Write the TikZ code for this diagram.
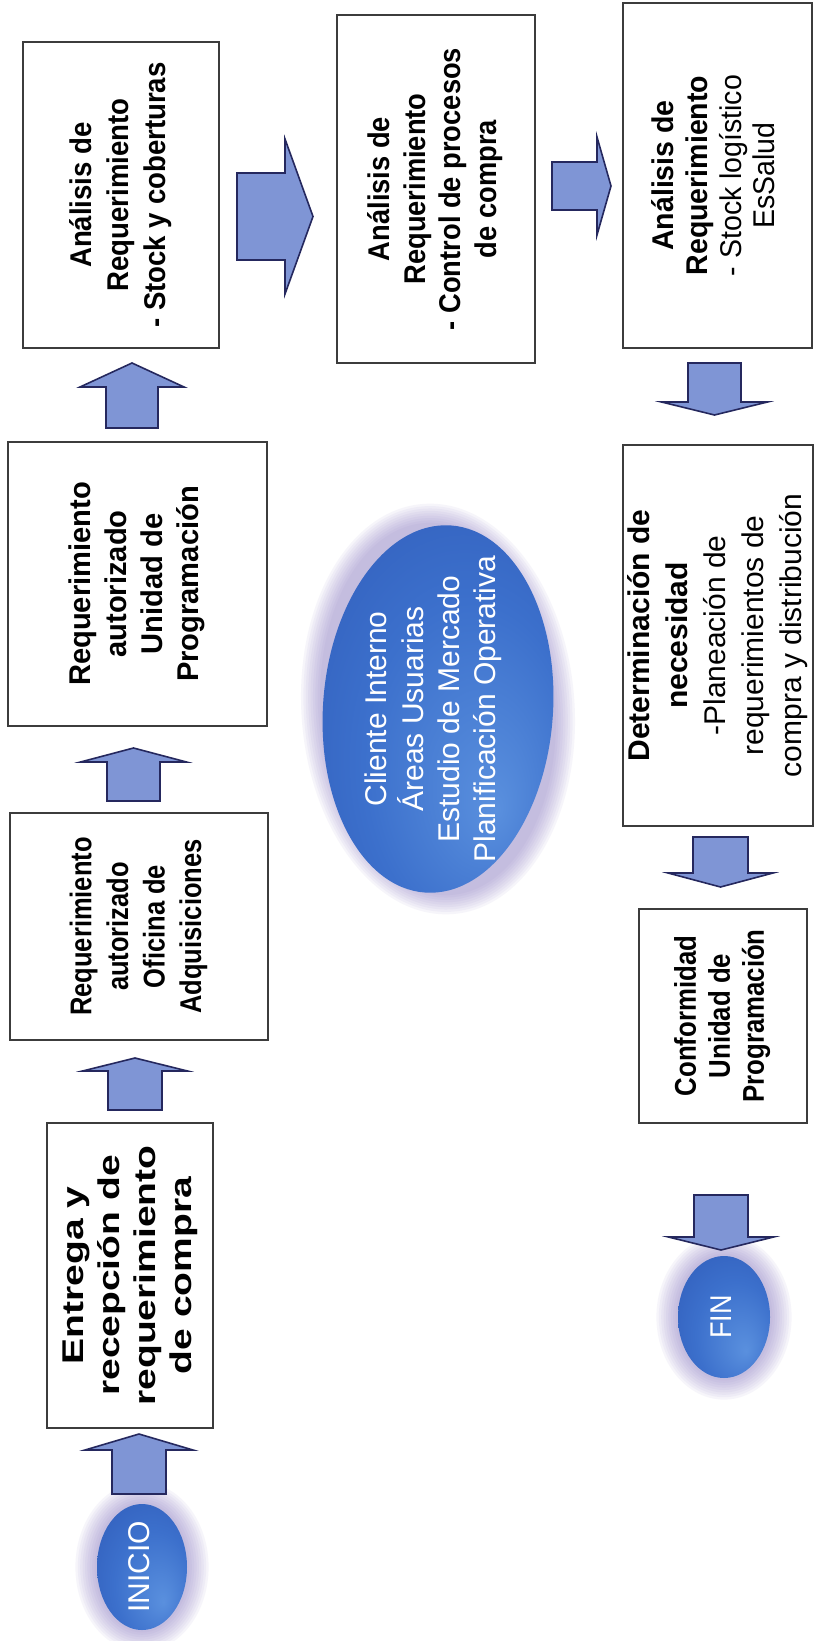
\documentclass[tikz,border=0pt]{standalone}
\usepackage{fontspec}
\setmainfont{Liberation Sans}
\usepackage{graphicx}
\usetikzlibrary{shapes.geometric}
\definecolor{arrfill}{HTML}{7F95D5}
\definecolor{arrline}{HTML}{25285E}
\definecolor{boxline}{HTML}{3C3C3C}
\definecolor{haze}{HTML}{8C7CC4}
\definecolor{eggin}{HTML}{5A90DE}
\definecolor{eggmid}{HTML}{3C70CC}
\definecolor{eggout}{HTML}{2A52B0}
\pgfdeclareradialshading{eggshade}{\pgfpoint{12bp}{-14bp}}{color(0bp)=(eggin); color(22bp)=(eggmid); color(50bp)=(eggout)}
\newcommand{\rtext}[4]{\rotatebox{90}{\scalebox{#1}[1]{\fontsize{15pt}{#2}\selectfont#3\begin{tabular}{@{}c@{}}#4\end{tabular}}}}
\newcommand{\glowat}[4]{\foreach \i in {1,...,9}{\fill[haze, opacity=0.07, rotate around={#4:(#1)}] (#1) ellipse [x radius={(#2+2.4*\i)*0.5pt}, y radius={(#3+2.4*\i)*0.5pt}];}}
\tikzset{
  stepbox/.style={draw=boxline, line width=0.8pt, fill=white, inner sep=0pt, anchor=center},
  egg/.style={ellipse, shade, shading=eggshade, inner sep=0pt, text=white},
  eggtext/.style={inner sep=0pt, text=white},
  blockarr/.style={fill=arrfill, draw=arrline, line width=0.8pt, line join=miter},
  pics/uparr/.style n args={4}{code={\draw[blockarr] (-#1,0) -- (#1,0) -- (#1,{-(#3-#4)}) -- (#2,{-(#3-#4)}) -- (0,-#3) -- (-#2,{-(#3-#4)}) -- (-#1,{-(#3-#4)}) -- cycle;}},
  pics/downarr/.style n args={4}{code={\draw[blockarr] (-#1,0) -- (#1,0) -- (#1,{#3-#4}) -- (#2,{#3-#4}) -- (0,#3) -- (-#2,{#3-#4}) -- (-#1,{#3-#4}) -- cycle;}},
  pics/rightarr/.style n args={4}{code={\draw[blockarr] (0,-#1) -- (0,#1) -- ({#3-#4},#1) -- ({#3-#4},#2) -- (#3,0) -- ({#3-#4},-#2) -- ({#3-#4},-#1) -- cycle;}}
}
\begin{document}
\begin{tikzpicture}[x=0.5pt, y=-0.5pt]
\useasboundingbox (0,0) rectangle (815,1641);
\fill[white] (0,0) rectangle (815,1641);

% boxes
\node[stepbox, minimum width=83pt, minimum height=152.5pt] (entrega) at (130,1275.5)
  {\rtext{1.3}{18pt}{\bfseries}{Entrega y\\ recepción de\\ requerimiento\\ de compra}};
\node[stepbox, minimum width=129pt, minimum height=113.5pt] (adq) at (139,926.5)
  {\rtext{0.85}{18.3pt}{\bfseries}{Requerimiento\\ autorizado\\ Oficina de\\ Adquisiciones}};
\node[stepbox, minimum width=129.5pt, minimum height=142pt] (prog) at (137.5,584)
  {\rtext{0.97}{18pt}{\bfseries}{Requerimiento\\ autorizado\\ Unidad de\\ Programación}};
\node[stepbox, minimum width=98pt, minimum height=153pt] (stock) at (121,195)
  {\rtext{0.92}{18.5pt}{\bfseries}{Análisis de\\ Requerimiento\\ - Stock y coberturas}};
\node[stepbox, minimum width=99pt, minimum height=174pt] (control) at (436,189)
  {\rtext{0.91}{17.8pt}{\bfseries}{Análisis de\\ Requerimiento\\ - Control de procesos\\ de compra}};
\node[stepbox, minimum width=94.5pt, minimum height=172.5pt] (stocklog) at (717.5,175.5)
  {\rtext{0.95}{16.8pt}{}{\textbf{Análisis de}\\ \textbf{Requerimiento}\\ - Stock logístico\\ EsSalud}};
\node[stepbox, minimum width=94pt, minimum height=190.5pt] (determ) at (718,635.5)
  {\rtext{1.0}{19pt}{}{\textbf{Determinación de}\\ \textbf{necesidad}\\ -Planeación de\\ requerimientos de\\ compra y distribución}};
\node[stepbox, minimum width=84pt, minimum height=107pt] (conf) at (723,1016)
  {\rtext{0.86}{17pt}{\bfseries}{Conformidad\\ Unidad de\\ Programación}};

% ovals
\coordinate (cinicio) at (142,1567);
\coordinate (cfin) at (724,1317);
\coordinate (cbig) at (438,709);
\glowat{cinicio}{45}{63}{0}
\glowat{cfin}{46}{61}{0}
\glowat{cbig}{115}{184}{4}
\node[egg, minimum width=45pt, minimum height=63pt] (inicio) at (cinicio) {};
\node[eggtext] (iniciotext) at (inicio.center) {\rtext{1.0}{18pt}{}{INICIO}};
\node[egg, minimum width=46pt, minimum height=61pt] (fin) at (cfin) {};
\node[eggtext] (fintext) at (fin.center) {\rtext{0.9}{18pt}{}{FIN}};
\node[egg, rotate=-4, minimum width=115pt, minimum height=184pt] (big) at (cbig) {};
\node[eggtext] (bigtext) at ([xshift=-2pt]cbig)
  {\rtext{1.0}{18pt}{}{Cliente Interno\\ Áreas Usuarias\\ Estudio de Mercado\\ Planificación Operativa}};

% block arrows
\coordinate (a1) at (139,1494);
\coordinate (a2) at (135,1110);
\coordinate (a3) at (133.5,801);
\coordinate (a4) at (132,428);
\coordinate (a5) at (237,216.5);
\coordinate (a6) at (552,186);
\coordinate (a7) at (714.5,363);
\coordinate (a8) at (720.5,837);
\coordinate (a9) at (721,1195);
\pic at (a1) {uparr={27}{54}{60}{16}};
\pic at (a2) {uparr={27}{52.5}{52}{13}};
\pic at (a3) {uparr={26.5}{53}{53}{14}};
\pic at (a4) {uparr={26}{52}{65}{24}};
\pic at (a5) {rightarr={43.5}{77.5}{76}{28}};
\pic at (a6) {rightarr={24}{49}{59}{14}};
\pic at (a7) {downarr={26.5}{53}{52}{13}};
\pic at (a8) {downarr={27.5}{52.5}{50}{14}};
\pic at (a9) {downarr={27}{52.5}{55}{13}};
\end{tikzpicture}
\end{document}
